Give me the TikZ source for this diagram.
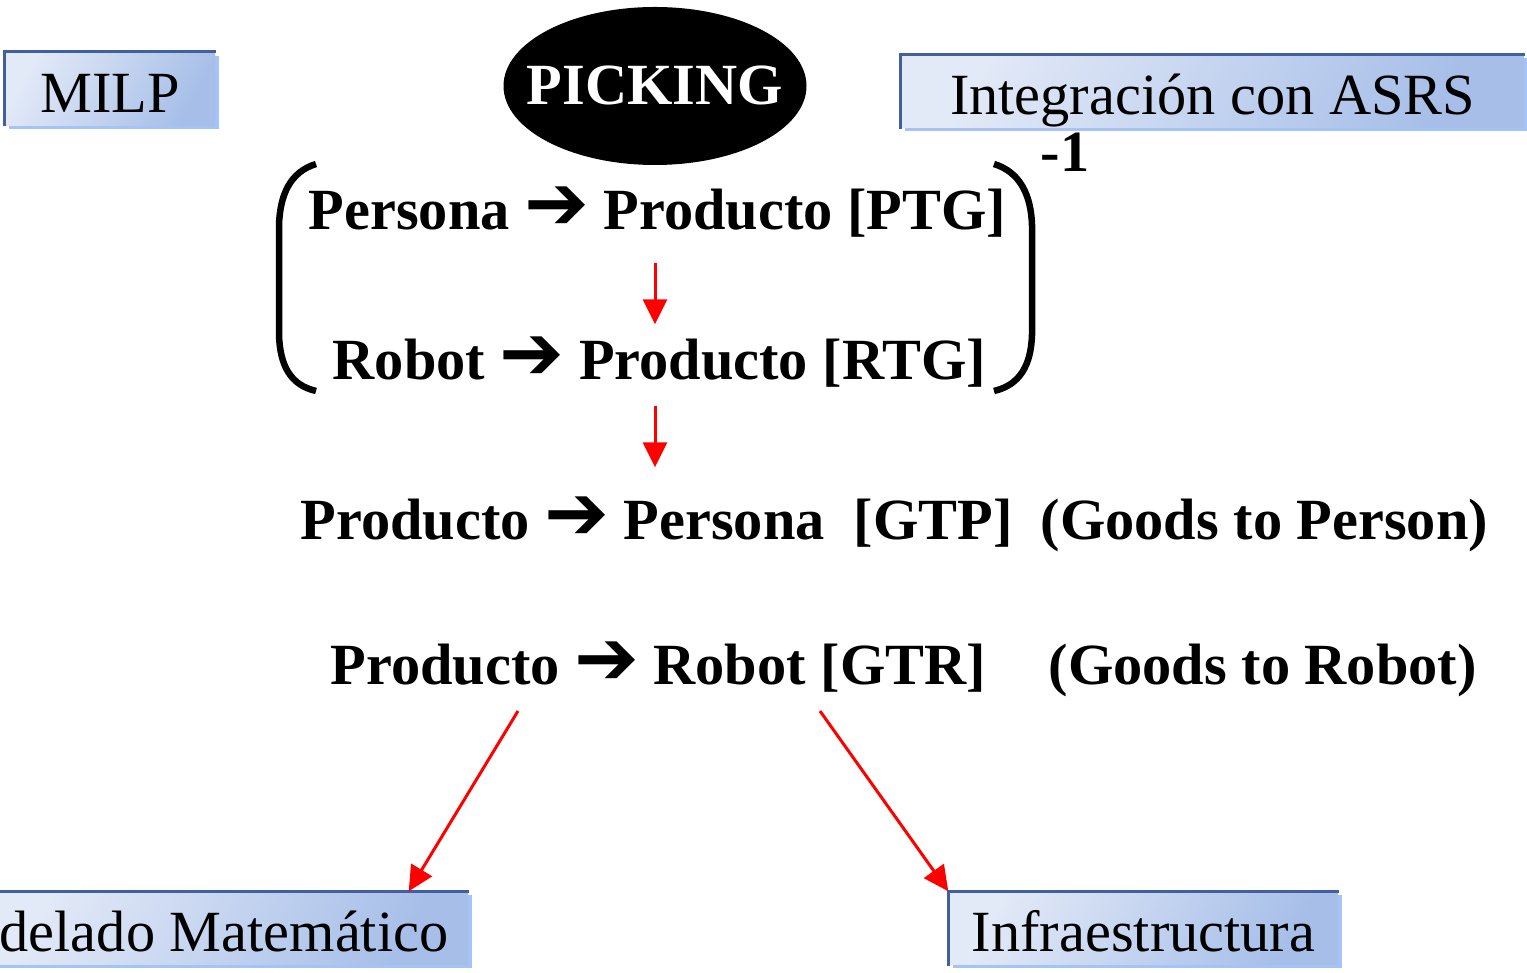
\documentclass[tikz,border=0pt]{standalone}
\usepackage{fontspec}
\setmainfont{Liberation Serif}
\newfontfamily\flechafont{DejaVu Sans}
\usetikzlibrary{arrows.meta,shadows}
\definecolor{cajaborde}{HTML}{42609C}
\definecolor{cajaclara}{HTML}{E2E9F7}
\definecolor{cajaoscura}{HTML}{A6BEE8}
\definecolor{cajasombra}{HTML}{A4C3F7}
\newcommand{\flecha}{{\flechafont\bfseries\fontsize{22}{20}\selectfont ➔}}

\begin{document}
\begin{tikzpicture}[
        caja/.style={rectangle, inner sep=0, minimum height=0.73cm,
            top color=cajaclara, bottom color=cajaoscura, shading angle=60,
            text height=0.47cm, text depth=0cm,
            font=\fontsize{16.6}{20}\selectfont,
            drop shadow={shadow xshift=0.035cm, shadow yshift=-0.035cm, fill=cajasombra, opacity=1}},
        linea/.style={inner sep=0, anchor=base west, text height=0.42cm, text depth=0.12cm,
            font=\bfseries\fontsize{16.6}{20}\selectfont},
        roja/.style={red, line width=0.03cm, -{Triangle[length=0.25cm,width=0.24cm]}},
        parentesis/.style={line width=0.065cm}
    ]
        \useasboundingbox (0, 0) rectangle (15.27, 9.73);

        \node[caja, minimum width=2.10cm] (milp) at (1.10, 8.84) {MILP};
        \node[caja, minimum width=6.23cm] (asrs) at (12.125, 8.815) {Integración con ASRS};
        \node[caja, minimum width=4.88cm] (modelo) at (2.24, 0.445) {delado Matemático};
        \node[caja, minimum width=3.89cm] (infra) at (11.435, 0.445) {Infraestructura};
        \foreach \c in {milp, asrs, modelo, infra}
            \draw[cajaborde, line width=0.03cm] (\c.south west) |- (\c.north east);

        \coordinate (pc) at (6.55, 8.87);
        \fill[black] (pc) ellipse [x radius=1.515cm, y radius=0.79cm];
        \node[inner sep=0, text=white, text height=0.38cm, text depth=0cm,
            font=\bfseries\fontsize{16.6}{20}\selectfont] (picking) at (pc) {PICKING};

        \node[linea] (ptg) at (3.08, 7.43) {Persona \flecha{} Producto [PTG]};
        \node[linea] (rtg) at (3.32, 5.93) {Robot \flecha{} Producto [RTG]};
        \node[linea] (inv) at (10.40, 8.01) {-1};
        \node[linea] (gtp) at (3.00, 4.33) {Producto \flecha{} Persona\ \ [GTP]};
        \node[linea] (gtpi) at (10.40, 4.33) {(Goods to Person)};
        \node[linea] (gtr) at (3.30, 2.88) {Producto \flecha{} Robot [GTR]};
        \node[linea] (gtri) at (10.48, 2.88) {(Goods to Robot)};

        % parentesis
        \draw[parentesis] (3.16, 8.09) .. controls (2.90, 8.01) and (2.80, 7.78) .. (2.79, 7.48)
            -- (2.79, 6.38) .. controls (2.80, 6.08) and (2.90, 5.88) .. (3.16, 5.82);
        \draw[parentesis] (9.94, 8.09) .. controls (10.20, 8.01) and (10.31, 7.78) .. (10.32, 7.48)
            -- (10.32, 6.38) .. controls (10.31, 6.08) and (10.20, 5.88) .. (9.94, 5.82);

        \coordinate (gtrA) at (5.18, 2.62);
        \coordinate (gtrB) at (8.20, 2.62);

        \draw[roja, shorten <=0.20cm, shorten >=0.13cm] (picking |- ptg.south) -- (picking |- rtg.north);
        \draw[roja, shorten <=0.13cm, shorten >=0.30cm] (picking |- rtg.south) -- (picking |- gtp.north);
        \draw[roja] (gtrA) -- ([xshift=-0.60cm]modelo.north east);
        \draw[roja] (gtrB) -- (infra.north west);

    \end{tikzpicture}
\end{document}
